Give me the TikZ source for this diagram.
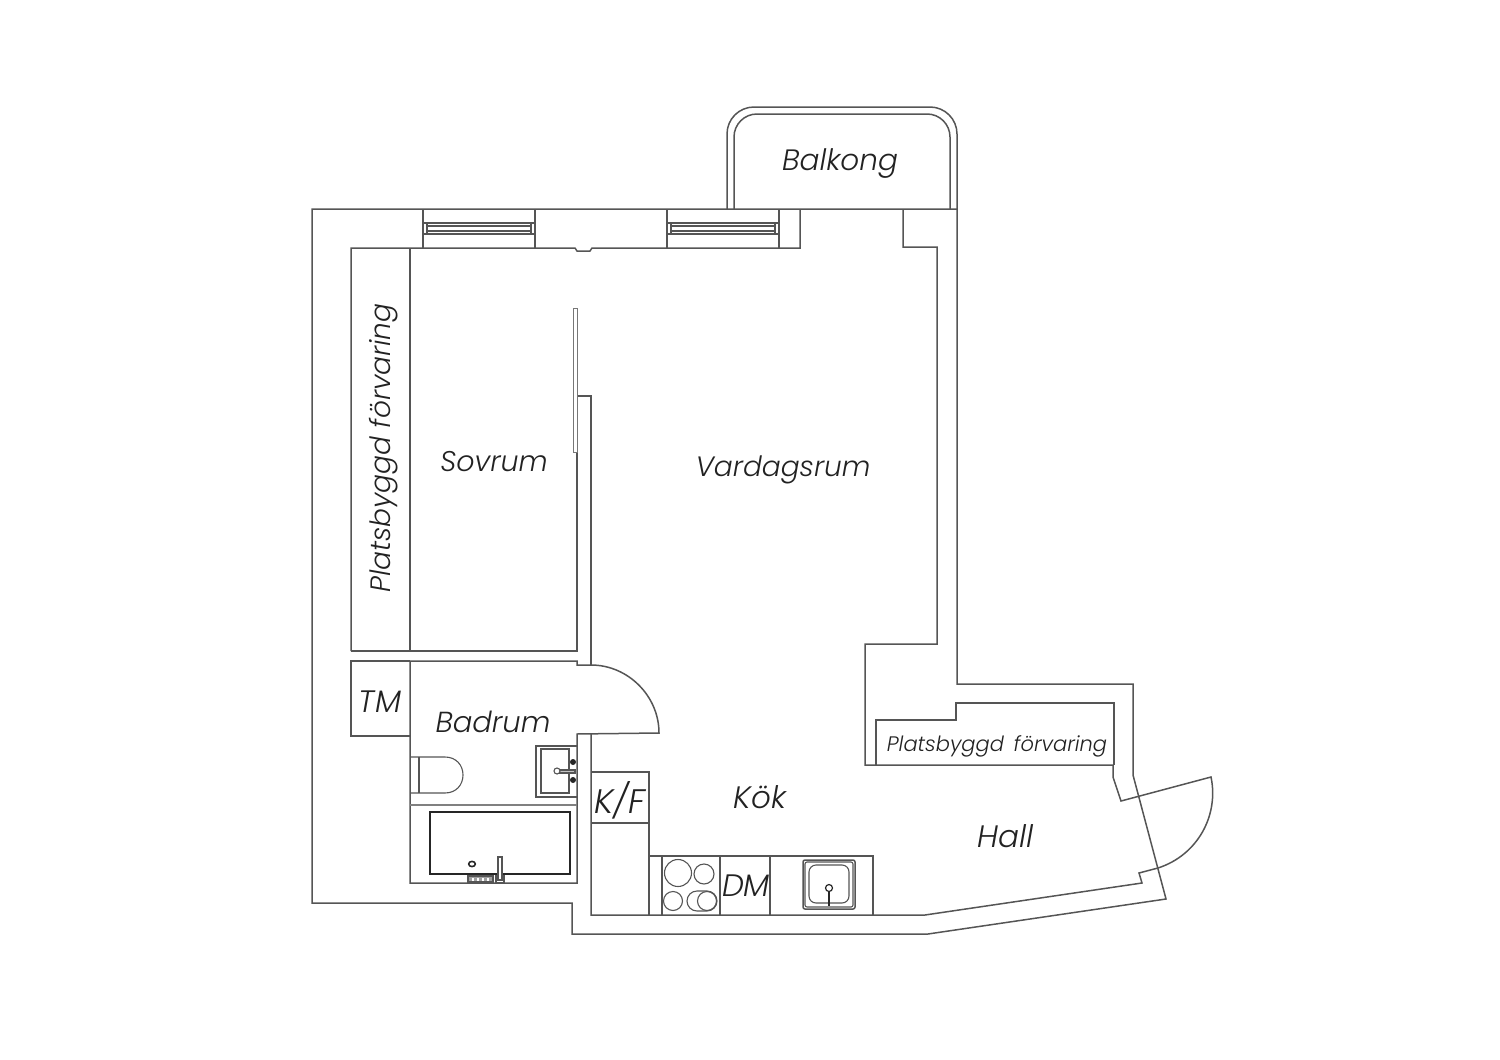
\documentclass[tikz,border=0pt]{standalone}
\usepackage{fontspec}
\setmainfont{Poppins Light}[ItalicFont={Poppins Light Italic}]
\definecolor{wallc}{HTML}{555555}
\definecolor{labc}{HTML}{222222}
\begin{document}
\begin{tikzpicture}[x=1pt,y=-1pt,line join=miter,
  wall/.style={draw=wallc,line width=1.5pt},
  fine/.style={draw=wallc,line width=1.1pt},
  heavy/.style={draw=black!85,line width=2.3pt},
  lab/.style={text=labc,inner sep=0pt,font=\fontsize{#1}{#1}\selectfont\itshape},
  lab/.default=28]
\useasboundingbox (0,0) rectangle (1500,1060);
% outer walls
\draw[wall] (312,209) -- (957,209) -- (957,684) -- (1133,684) -- (1133,775) -- (1166,899) -- (928,934) -- (572,934) -- (572,903) -- (312,903) -- cycle;
% balcony
\draw[wall,rounded corners=27pt] (727,209) -- (727,107) -- (957,107) -- (957,209);
\draw[wall,rounded corners=23pt] (734,209) -- (734,114) -- (950,114) -- (950,209);
% top inner wall
\draw[wall] (351,651) -- (351,248) -- (575,248) -- (577,251) -- (590,251) -- (592,248) -- (800,248) -- (800,209);
\draw[wall] (423,209) -- (423,248) (535,209) -- (535,248) (667,209) -- (667,248) (779,209) -- (779,248);
% windows
\foreach \wx/\wy in {423/535,667/779}{
  \draw[fine] (\wx,223) rectangle (\wy,234);
  \draw[fine] (\wx+4,226) rectangle (\wy-4,231);
  \draw[fine] (\wx+4,223) -- (\wx+4,234) (\wy-4,223) -- (\wy-4,234);
}
% right inner wall and storage
\draw[wall] (903,209) -- (903,247) -- (937,247) -- (937,644) -- (865,644) -- (865,765) -- (1113,765) -- (1113,777) -- (1121,801) -- (1211,777)
  .. controls (1219,815) and (1198,855) .. (1158,868) -- (1139,873) -- (1142,883) -- (925,915) -- (591,915) -- (591,734);
\draw[wall] (876,765) -- (876,720) -- (956,720) -- (956,703) -- (1114,703) -- (1114,765);
% bedroom
\draw[wall] (351,651) -- (577,651) -- (577,396) -- (591,396) -- (591,665);
\draw[wall] (410,248) -- (410,651);
\draw[draw=wallc!80,line width=0.8pt,fill=white] (573,308) rectangle (577,452);
% bathroom
\draw[wall] (410,736) -- (351,736) -- (351,661) -- (410,661);
\draw[wall] (410,661) -- (577,661) -- (577,665) -- (591,665) .. controls (628,665) and (659,696) .. (659,733) -- (577,734) -- (577,883) -- (410,883) -- cycle;
\draw[wall,line width=1.8pt,draw=wallc!75] (410,805) -- (577,805);
% toilet
\draw[fine] (410,757) -- (445,757) .. controls (456,757) and (463,765) .. (463,775) .. controls (463,785) and (456,793) .. (445,793) -- (410,793);
\draw[fine] (419,757) -- (419,793);
% basin
\draw[fine] (577,746) -- (536,746) -- (536,797) -- (577,797);
\draw[fine] (541,749) rectangle (569,793);
\draw[fine,fill=wallc!35] (557,770) rectangle (575,773);
\draw[fine,fill=white] (557,771) circle[radius=3pt];
\fill[black!85] (573,762) circle[radius=3pt] (573,780) circle[radius=3pt];
% bath
\draw[heavy] (430,812) rectangle (570,874);
\draw[line width=1.6pt,draw=black!85] (472,864) ellipse[x radius=3.3pt,y radius=2.6pt];
\draw[fine,fill=wallc!55] (468,876) rectangle (493,882);
\foreach \dx in {472,477,482,487}{\fill[white] (\dx,877.5) rectangle (\dx+2,880.5);}
\draw[fine] (496,875) -- (496,883) -- (504,883) -- (504,875);
\draw[fine,fill=white] (498,857) rectangle (502,880);
% fridge and kitchen units
\draw[wall] (591,772) -- (649,772) -- (649,915) (591,823) -- (649,823);
\draw[wall] (649,856) -- (873,856) -- (873,915);
\draw[wall] (662,856) -- (662,915) (720,856) -- (720,915) (770,856) -- (770,915);
% hob
\draw[fine] (678,873) circle[radius=13.5pt] (704,874) circle[radius=10pt] (673,901) circle[radius=9.5pt] (707,901) circle[radius=9.5pt];
\draw[fine] (697,891) -- (707,891) arc[start angle=90,end angle=-90,radius=10pt] -- (697,911) arc[start angle=270,end angle=90,radius=10pt];
% sink
\draw[wall,rounded corners=2pt] (803,860) rectangle (855,909);
\draw[fine,rounded corners=2pt] (805,862) rectangle (853,907);
\draw[fine,rounded corners=7pt] (809,865) rectangle (849,903);
\draw[line width=1.2pt,draw=black!85] (829,888) circle[radius=3.5pt];
\draw[line width=1.8pt,draw=black!85] (829,892) -- (829,906);
% labels
\node[lab=29.5] (balkong) at (840,164) {Balkong};
\node[lab=28.5] (sovrum) at (494,462) {Sovrum};
\node[lab] (vardagsrum) at (783,470) {Vardagsrum};
\node[lab=29] (badrum) at (493,722) {Badrum};
\node[lab=31] (kok) at (760,797) {Kök};
\node[lab=31] (hall) at (1006,836) {Hall};
\node[lab=31] (tm) at (380,702) {TM};
\node[lab=34] (kf) at (620,800) {K/F};
\node[lab=31] (dm) at (746,886) {DM};
\node[lab,rotate=90] (plats1) at (384,448) {Platsbyggd förvaring};
\node[lab=21] (plats2) at (997,746) {Platsbyggd\, förvaring};
\end{tikzpicture}
\end{document}
